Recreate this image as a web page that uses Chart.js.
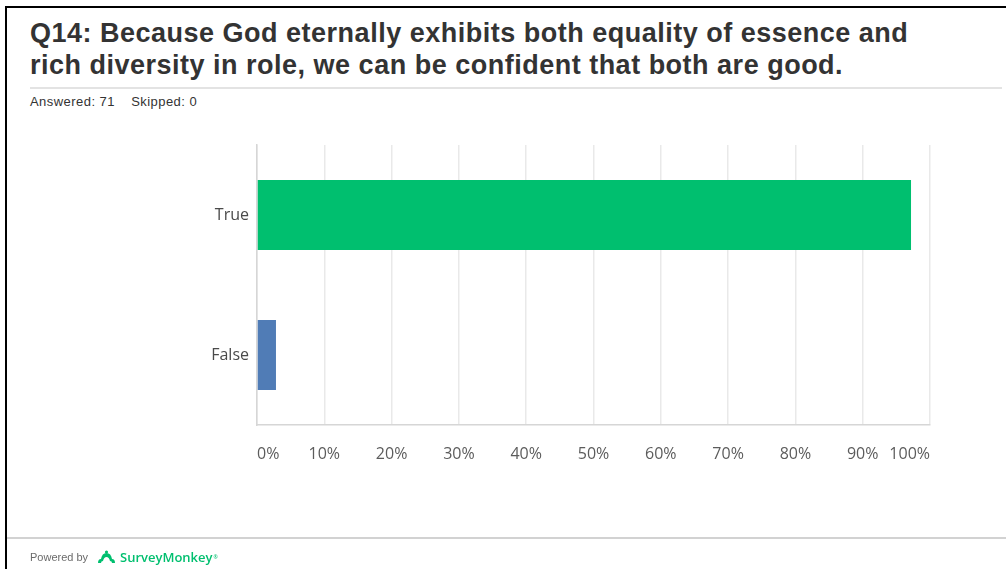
<!DOCTYPE html>
<html>
<head>
<meta charset="utf-8">
<script src="https://cdn.jsdelivr.net/npm/chart.js@4.4.1/dist/chart.umd.min.js"></script>
<style>
  html, body { margin: 0; padding: 0; background: #fff; }
  body { width: 1006px; height: 569px; position: relative; overflow: hidden; font-family: "Liberation Sans", Arial, sans-serif; }
  .frame { position: absolute; left: 5px; top: 6px; right: 0; bottom: 0; border-top: 2px solid #000; border-left: 2px solid #000; }
  .title { position: absolute; left: 30px; top: 17px; font-size: 27px; letter-spacing: 0.5px; line-height: 32px; font-weight: bold; color: #333; white-space: nowrap; }
  .rule { position: absolute; left: 30px; top: 87px; width: 972px; height: 2px; background: #e3e3e3; }
  .meta { position: absolute; left: 30px; top: 95px; font-size: 13px; letter-spacing: 0.45px; line-height: 14px; color: #333; white-space: pre; }
  .footline { position: absolute; left: 7px; right: 0; top: 537px; height: 2px; background: #d2d2d2; }
  .powered { position: absolute; left: 30px; top: 551px; font-size: 11px; line-height: 13px; color: #6b6b6b; }
  .brand { position: absolute; left: 96px; top: 548px; height: 18px; display: flex; align-items: center; color: #00bf6f; font-family: "Open Sans", sans-serif; font-weight: 600; font-size: 13px; }
  .brand svg { margin-right: 3px; }
  .brand sup { font-size: 5px; margin-left: 1px; }
  #chartWrap { position: absolute; left: 0; top: 0; width: 1006px; height: 569px; }
</style>
</head>
<body>
<div class="frame"></div>
<div class="title">Q14: Because God eternally exhibits both equality of essence and<br>rich diversity in role, we can be confident that both are good.</div>
<div class="rule"></div>
<div class="meta">Answered: 71    Skipped: 0</div>
<div id="chartWrap"><canvas id="q14"></canvas></div>
<div class="footline"></div>
<div class="powered">Powered by</div>
<div class="brand">
  <svg width="21" height="14" viewBox="0 0 21 14">
    <path d="M2 13 Q2 9 5 9 Q6 3 10.5 3 Q15 3 16 9 Q19 9 19 13 L16 13 Q16 11 14 11 Q13 7 10.5 7 Q8 7 7 11 Q5 11 5 13 Z" fill="#00bf6f"/>
    <circle cx="10.5" cy="2" r="1.6" fill="#00bf6f"/>
  </svg>
  SurveyMonkey<sup>®</sup>
</div>
<script>
// answer choices and share of respondents (69 and 2 of 71)
const categories = ['True', 'False'];
const responsePct = [97.18, 2.82];
const barColors = ['#00bf6f', '#507cb6'];
const tickStep = 10;
const tickMax = 100;

const labelFont = { family: '"Open Sans", sans-serif', size: 16 };

new Chart(document.getElementById('q14'), {
  type: 'bar',
  data: {
    labels: categories,
    datasets: [{
      data: responsePct,
      backgroundColor: barColors,
      borderWidth: 0,
      categoryPercentage: 0.5,
      barPercentage: 1
    }]
  },
  options: {
    indexAxis: 'y',
    responsive: true,
    maintainAspectRatio: false,
    animation: false,
    layout: { padding: { left: 177, right: 76, top: 145, bottom: 99 } },
    plugins: {
      legend: { display: false },
      tooltip: { enabled: false }
    },
    scales: {
      x: {
        min: 0,
        max: tickMax,
        afterFit(scale) { scale.height = 45; },
        ticks: {
          stepSize: tickStep,
          align: 'inner',
          padding: 20,
          color: '#5c5c5c',
          font: labelFont,
          callback: v => v + '%'
        },
        grid: { color: '#e9e9e9', lineWidth: 1.5, drawTicks: false },
        border: { display: true, color: '#d6d6d6', width: 1.5 }
      },
      y: {
        afterFit(scale) { scale.width = 80; },
        ticks: { padding: 8, color: '#4a4a4a', font: labelFont },
        grid: { display: false, drawTicks: false },
        border: { display: true, color: '#d6d6d6', width: 1.5 }
      }
    }
  }
});
</script>
</body>
</html>
